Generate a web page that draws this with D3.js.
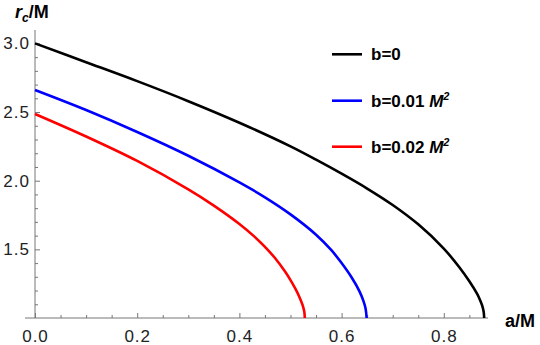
<!DOCTYPE html>
<html>
<head>
<meta charset="utf-8">
<script src="https://cdn.jsdelivr.net/npm/d3@7"></script>
<style>
  body { margin: 0; background: #fff; }
  svg text { font-family: "Liberation Sans", Arial, sans-serif; }
</style>
</head>
<body>
<svg id="chart" width="540" height="345"></svg>
<script>
// data
var aBlack = [0, 0.1, 0.2, 0.3, 0.4, 0.5, 0.55, 0.6, 0.65, 0.7, 0.75, 0.8, 0.83, 0.85, 0.865, 0.87, 0.875, 0.878, 0.879];
var rBlack = [3.0, 2.863, 2.725, 2.579, 2.422, 2.25, 2.153, 2.051, 1.943, 1.823, 1.682, 1.506, 1.371, 1.267, 1.177, 1.139, 1.092, 1.046, 1.0];
var aBlue  = [0, 0.1, 0.2, 0.3, 0.4, 0.45, 0.5, 0.55, 0.58, 0.6, 0.62, 0.635, 0.643, 0.647, 0.649];
var rBlue  = [2.661, 2.515, 2.355, 2.182, 1.988, 1.879, 1.755, 1.607, 1.494, 1.40, 1.293, 1.194, 1.121, 1.067, 1.0];
var aRed   = [0, 0.1, 0.2, 0.3, 0.35, 0.4, 0.43, 0.45, 0.47, 0.49, 0.5, 0.51, 0.518, 0.524, 0.527, 0.528];
var rRed   = [2.486, 2.322, 2.144, 1.937, 1.819, 1.685, 1.591, 1.518, 1.435, 1.335, 1.276, 1.21, 1.148, 1.09, 1.045, 1.0];

var xMajor = [0, 0.2, 0.4, 0.6, 0.8];
var xMinor = [0.05, 0.1, 0.15, 0.25, 0.3, 0.35, 0.45, 0.5, 0.55, 0.65, 0.7, 0.75, 0.85];
var yMajor = [1.5, 2.0, 2.5, 3.0];
var yMinor = [1.1, 1.2, 1.3, 1.4, 1.6, 1.7, 1.8, 1.9, 2.1, 2.2, 2.3, 2.4, 2.6, 2.7, 2.8, 2.9];

var series = [
  {a: aBlack, r: rBlack, color: "#000000", label: "b=0", m2: false},
  {a: aBlue,  r: rBlue,  color: "#0000ff", label: "b=0.01", m2: true},
  {a: aRed,   r: rRed,   color: "#ff0000", label: "b=0.02", m2: true}
];

var svg = d3.select("#chart");

var x = d3.scaleLinear().domain([0, 0.9]).range([35, 35 + 0.9 * 511]);
var y = d3.scaleLinear().domain([1, 3]).range([318, 43.4]);

var axisColor = "#777";

// axis lines
svg.append("line").attr("x1", 25).attr("x2", 488).attr("y1", y(1)).attr("y2", y(1))
  .attr("stroke", axisColor).attr("stroke-width", 1);
svg.append("line").attr("x1", x(0)).attr("x2", x(0)).attr("y1", 30).attr("y2", y(1))
  .attr("stroke", axisColor).attr("stroke-width", 1);

// x ticks
var gx = svg.append("g").attr("transform", "translate(0," + y(1) + ")")
  .call(d3.axisBottom(x).tickValues(xMajor).tickSize(-5).tickPadding(12).tickFormat(d3.format(".1f")));
svg.append("g").attr("transform", "translate(0," + y(1) + ")")
  .call(d3.axisBottom(x).tickValues(xMinor).tickSize(-3).tickFormat(""));

// y ticks
var gy = svg.append("g").attr("transform", "translate(" + x(0) + ",0)")
  .call(d3.axisLeft(y).tickValues(yMajor).tickSize(-5).tickPadding(5).tickFormat(d3.format(".1f")));
svg.append("g").attr("transform", "translate(" + x(0) + ",0)")
  .call(d3.axisLeft(y).tickValues(yMinor).tickSize(-3).tickFormat(""));

svg.selectAll(".domain").remove();
svg.selectAll(".tick line").attr("stroke", axisColor);
svg.selectAll(".tick text")
  .attr("fill", "#222")
  .style("font-size", "17px")
  .style("letter-spacing", "1px")
  .style("font-family", "'Liberation Sans', Arial, sans-serif");
gx.selectAll(".tick text").attr("dy", "0.71em");

// curves
var line = d3.line()
  .x(function(d) { return x(d[0]); })
  .y(function(d) { return y(d[1]); })
  .curve(d3.curveCatmullRom.alpha(0.5));

series.forEach(function(s) {
  var pts = s.a.map(function(v, i) { return [v, s.r[i]]; });
  svg.append("path")
    .datum(pts)
    .attr("d", line)
    .attr("fill", "none")
    .attr("stroke", s.color)
    .attr("stroke-width", 2.6);
});

// axis labels
var yl = svg.append("text").attr("x", 15).attr("y", 18)
  .style("font-size", "18px").style("font-weight", "bold");
yl.append("tspan").style("font-style", "italic").text("r");
yl.append("tspan").style("font-style", "italic").style("font-size", "12px").attr("dy", 4).text("c");
yl.append("tspan").attr("dy", -4).text("/M");

svg.append("text").attr("x", 505).attr("y", 327)
  .style("font-size", "18px").style("font-weight", "bold").text("a/M");

// legend
var legY = [54.3, 100.7, 146.7];
series.forEach(function(s, i) {
  var g = svg.append("g");
  g.append("line").attr("x1", 332).attr("x2", 362).attr("y1", legY[i]).attr("y2", legY[i])
    .attr("stroke", s.color).attr("stroke-width", 2.6);
  var t = g.append("text").attr("x", 371).attr("y", legY[i] + 6)
    .style("font-size", "17px").style("font-weight", "bold");
  t.append("tspan").text(s.label);
  if (s.m2) {
    t.append("tspan").style("font-style", "italic").text(" M");
    t.append("tspan").style("font-style", "italic").style("font-size", "11px").attr("dy", -7).text("2");
  }
});
</script>
</body>
</html>
